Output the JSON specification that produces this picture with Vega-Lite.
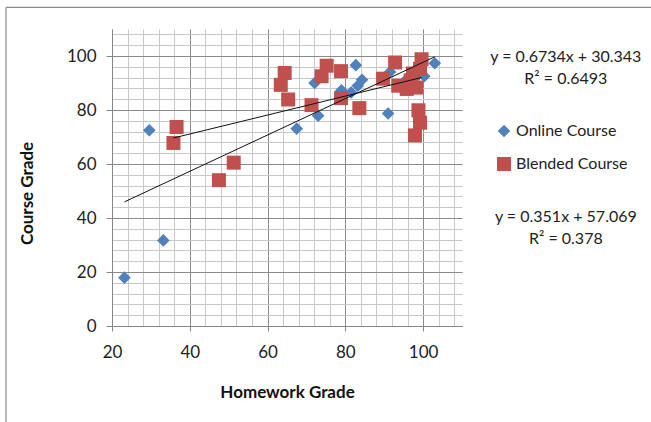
{
  "$schema": "https://vega.github.io/schema/vega-lite/v6.json",
  "autosize": {"type": "none"},
  "width": 350,
  "height": 297,
  "padding": {"left": 112, "top": 29, "right": 189, "bottom": 96},
  "background": "white",
  "config": {"view": {"stroke": null}, "font": "Lato"},
  "datasets": {
    "points": [
      {"series": "Online Course", "hw": 23.2, "course": 17.9},
      {"series": "Online Course", "hw": 29.6, "course": 72.5},
      {"series": "Online Course", "hw": 33.2, "course": 31.7},
      {"series": "Online Course", "hw": 67.5, "course": 73.1},
      {"series": "Online Course", "hw": 72.1, "course": 90.0},
      {"series": "Online Course", "hw": 73.0, "course": 77.9},
      {"series": "Online Course", "hw": 79.0, "course": 87.3},
      {"series": "Online Course", "hw": 81.5, "course": 86.5},
      {"series": "Online Course", "hw": 82.7, "course": 96.6},
      {"series": "Online Course", "hw": 83.2, "course": 89.0},
      {"series": "Online Course", "hw": 84.3, "course": 91.2},
      {"series": "Online Course", "hw": 91.0, "course": 78.7},
      {"series": "Online Course", "hw": 91.5, "course": 94.1},
      {"series": "Online Course", "hw": 95.5, "course": 91.0},
      {"series": "Online Course", "hw": 100.3, "course": 92.5},
      {"series": "Online Course", "hw": 103.0, "course": 97.3},
      {"series": "Blended Course", "hw": 36.6, "course": 73.7},
      {"series": "Blended Course", "hw": 35.8, "course": 67.8},
      {"series": "Blended Course", "hw": 47.5, "course": 54.0},
      {"series": "Blended Course", "hw": 51.3, "course": 60.5},
      {"series": "Blended Course", "hw": 64.4, "course": 93.7},
      {"series": "Blended Course", "hw": 63.4, "course": 89.3},
      {"series": "Blended Course", "hw": 65.3, "course": 83.9},
      {"series": "Blended Course", "hw": 71.3, "course": 81.8},
      {"series": "Blended Course", "hw": 73.9, "course": 92.5},
      {"series": "Blended Course", "hw": 75.2, "course": 96.4},
      {"series": "Blended Course", "hw": 78.9, "course": 94.4},
      {"series": "Blended Course", "hw": 78.9, "course": 84.4},
      {"series": "Blended Course", "hw": 83.6, "course": 80.7},
      {"series": "Blended Course", "hw": 89.7, "course": 91.6},
      {"series": "Blended Course", "hw": 92.8, "course": 97.6},
      {"series": "Blended Course", "hw": 93.6, "course": 89.0},
      {"series": "Blended Course", "hw": 95.8, "course": 87.8},
      {"series": "Blended Course", "hw": 98.2, "course": 88.3},
      {"series": "Blended Course", "hw": 96.8, "course": 91.0},
      {"series": "Blended Course", "hw": 97.4, "course": 93.5},
      {"series": "Blended Course", "hw": 99.2, "course": 95.3},
      {"series": "Blended Course", "hw": 99.6, "course": 98.8},
      {"series": "Blended Course", "hw": 98.8, "course": 79.9},
      {"series": "Blended Course", "hw": 99.2, "course": 75.3},
      {"series": "Blended Course", "hw": 97.9, "course": 70.6}
    ],
    "trend": [
      {"series": "Online Course", "hw": 23.2, "course": 45.97},
      {"series": "Online Course", "hw": 103.0, "course": 99.70},
      {"series": "Blended Course", "hw": 35.8, "course": 69.64},
      {"series": "Blended Course", "hw": 99.6, "course": 92.03}
    ],
    "equations": [
      {"series": "Online Course", "text": "y = 0.6734x + 30.343\nR² = 0.6493"},
      {"series": "Blended Course", "text": "y = 0.351x + 57.069\nR² = 0.378"}
    ]
  },
  "layer": [
    {
      "data": {"values": [{}]},
      "mark": {"type": "rule", "color": "#8c8c8c", "strokeWidth": 1.2},
      "encoding": {
        "x": {"datum": -7.26, "type": "quantitative"},
        "y": {"datum": 118, "type": "quantitative"},
        "y2": {"datum": -40}
      }
    },
    {
      "data": {"values": [{}]},
      "mark": {"type": "rule", "color": "#8c8c8c", "strokeWidth": 1.2},
      "encoding": {
        "x": {"datum": -7.26, "type": "quantitative"},
        "x2": {"datum": 160},
        "y": {"datum": 118, "type": "quantitative"}
      }
    },
    {
      "data": {"name": "points"},
      "mark": {"type": "point", "filled": true, "opacity": 1},
      "encoding": {
        "x": {
          "field": "hw", "type": "quantitative",
          "scale": {"domain": [20, 110], "nice": false, "zero": false},
          "axis": {
            "title": "Homework Grade",
            "values": [20,24,28,32,36,40,44,48,52,56,60,64,68,72,76,80,84,88,92,96,100,104,108],
            "tickCount": 200,
            "format": "d",
            "labelExpr": "datum.value % 20 === 0 ? datum.label : ''",
            "labelOverlap": false,
            "grid": true,
            "gridColor": {"condition": {"test": "datum.value % 20 === 0", "value": "#8a8a8a"}, "value": "#c8c8c8"},
            "gridWidth": 1,
            "tickColor": {"condition": {"test": "datum.value % 20 === 0", "value": "#868686"}, "value": "transparent"},
            "tickSize": 5,
            "domainColor": "#868686",
            "labelFont": "Lato", "labelFontSize": 17, "labelColor": "#222",
            "labelPadding": 13,
            "labelFlush": false,
            "titleFont": "Lato", "titleFontSize": 17, "titleFontWeight": "bold", "titleColor": "#111",
            "titleBaseline": "middle", "titleY": 66, "titleX": 175, "titleAnchor": "middle"
          }
        },
        "y": {
          "field": "course", "type": "quantitative",
          "scale": {"domain": [0, 110], "nice": false},
          "axis": {
            "title": "Course Grade",
            "values": [0,4,8,12,16,20,24,28,32,36,40,44,48,52,56,60,64,68,72,76,80,84,88,92,96,100,104,108],
            "tickCount": 200,
            "format": "d",
            "labelExpr": "datum.value % 20 === 0 ? datum.label : ''",
            "labelOverlap": false,
            "grid": true,
            "gridColor": {"condition": {"test": "datum.value % 20 === 0", "value": "#8a8a8a"}, "value": "#c8c8c8"},
            "gridWidth": 1,
            "tickColor": {"condition": {"test": "datum.value % 20 === 0", "value": "#868686"}, "value": "transparent"},
            "tickSize": 6,
            "domainColor": "#868686",
            "labelFont": "Lato", "labelFontSize": 17, "labelColor": "#222",
            "labelPadding": 10,
            "labelFlush": false,
            "titleFont": "Lato", "titleFontSize": 17, "titleFontWeight": "bold", "titleColor": "#111",
            "titleAngle": -90, "titleBaseline": "middle", "titleAlign": "center",
            "titleX": -85, "titleY": 164
          }
        },
        "color": {
          "field": "series", "type": "nominal",
          "scale": {"domain": ["Online Course", "Blended Course"], "range": ["#4F81BD", "#C0504D"]},
          "legend": {
            "orient": "none", "legendX": 384, "legendY": 94, "title": null,
            "labelFont": "Lato", "labelFontSize": 16, "labelColor": "#222",
            "rowPadding": 17, "labelOffset": 4, "symbolStrokeWidth": 0
          }
        },
        "shape": {
          "field": "series", "type": "nominal",
          "scale": {"domain": ["Online Course", "Blended Course"], "range": ["diamond", "square"]}
        },
        "size": {
          "field": "series", "type": "nominal",
          "scale": {"domain": ["Online Course", "Blended Course"], "range": [160, 196]}
        }
      }
    },
    {
      "data": {"name": "trend"},
      "mark": {"type": "line", "color": "#111", "strokeWidth": 1},
      "encoding": {
        "x": {"field": "hw", "type": "quantitative"},
        "y": {"field": "course", "type": "quantitative"},
        "detail": {"field": "series", "type": "nominal"}
      }
    },
    {
      "data": {"name": "equations"},
      "transform": [{"filter": "datum.series === 'Online Course'"}],
      "mark": {"type": "text", "font": "Lato", "fontSize": 16, "color": "#222", "align": "center", "baseline": "middle", "lineBreak": "\n", "lineHeight": 22},
      "encoding": {
        "x": {"datum": 136.7, "type": "quantitative"},
        "y": {"datum": 99.6, "type": "quantitative"},
        "text": {"field": "text"}
      }
    },
    {
      "data": {"name": "equations"},
      "transform": [{"filter": "datum.series === 'Blended Course'"}],
      "mark": {"type": "text", "font": "Lato", "fontSize": 16, "color": "#222", "align": "center", "baseline": "middle", "lineBreak": "\n", "lineHeight": 22},
      "encoding": {
        "x": {"datum": 136.7, "type": "quantitative"},
        "y": {"datum": 40.4, "type": "quantitative"},
        "text": {"field": "text"}
      }
    }
  ]
}
